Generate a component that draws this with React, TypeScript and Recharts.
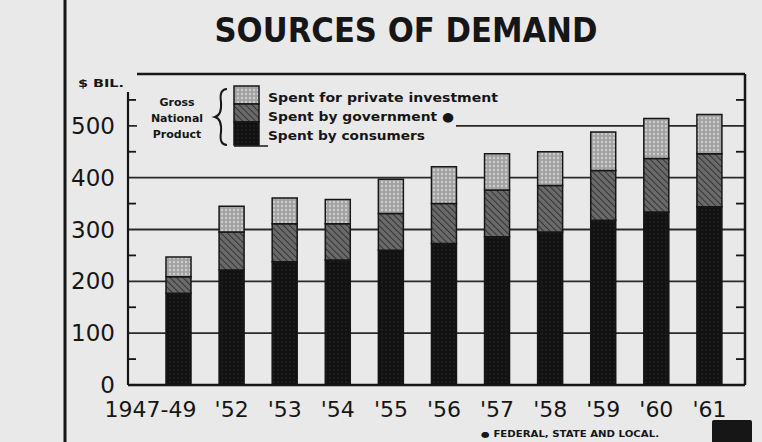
import React from 'react';
import { BarChart, Bar, XAxis, YAxis, CartesianGrid, ReferenceLine } from 'recharts';

const categories = ['1947-49', "'52", "'53", "'54", "'55", "'56", "'57", "'58", "'59", "'60", "'61"];
const consumers = [177, 222, 238, 241, 260, 273, 286, 295, 318, 334, 344];
const government = [32, 73, 73, 70, 71, 77, 90, 90, 96, 103, 102];
const investment = [38, 50, 50, 47, 66, 71, 70, 65, 74, 77, 76];
const yTicks = [0, 100, 200, 300, 400, 500];
const minorTicks = [50, 150, 250, 350, 450, 550];
const legendNames = ['Spent for private investment', 'Spent by government \u25CF', 'Spent by consumers'];
const gnpLabel = ['Gross', 'National', 'Product'];
const title = 'SOURCES OF DEMAND';
const unitLabel = '$ BIL.';
const footnote = '\u25CF FEDERAL, STATE AND LOCAL.';

const data = categories.map((c, i) => ({
  year: c,
  consumers: consumers[i],
  government: government[i],
  investment: investment[i],
}));

const INK = '#161616';
const PAPER = '#e9e9e9';
const FONT = 'DejaVu Sans';

const Patterns = () => (
  <defs>
    <pattern id="hatchGov" width="4.5" height="4.5" patternUnits="userSpaceOnUse" patternTransform="rotate(-45)">
      <rect width="4.5" height="4.5" fill="#6a6a6a" />
      <line x1="0" y1="0" x2="0" y2="4.5" stroke="#333" strokeWidth="2" />
    </pattern>
    <pattern id="dotsInv" width="4" height="4" patternUnits="userSpaceOnUse">
      <rect width="4" height="4" fill="#a2a2a2" />
      <circle cx="2" cy="2" r="1.2" fill="#cdcdcd" />
    </pattern>
    <pattern id="dotsCons" width="4" height="4" patternUnits="userSpaceOnUse">
      <rect width="4" height="4" fill="#121212" />
      <circle cx="2" cy="2" r="0.8" fill="#2a2a2a" />
    </pattern>
  </defs>
);

const XTick = (props: any) => {
  const { x, y, payload, index } = props;
  const dx = index === 0 ? -28 : 0;
  return (
    <text x={x + dx} y={y + 32} textAnchor="middle" fontSize={22} fontFamily={FONT} fill={INK}>
      {payload.value}
    </text>
  );
};

const LeftMinorTick = (props: any) => {
  const { x, y } = props;
  return <line x1={x} y1={y} x2={x + 8} y2={y} stroke={INK} strokeWidth={1.8} />;
};

const RightMinorTick = (props: any) => {
  const { x, y } = props;
  return <line x1={x - 9} y1={y} x2={x} y2={y} stroke={INK} strokeWidth={1.8} />;
};

export default function App() {
  return (
    <div style={{ position: 'absolute', left: 0, top: 0, width: 762, height: 442, background: PAPER, overflow: 'hidden' }}>
      <BarChart
        width={762}
        height={442}
        data={data}
        margin={{ top: 74, right: 16, bottom: 27, left: 67 }}
        barSize={25}
      >
        <Patterns />
        <CartesianGrid yAxisId="left" horizontal vertical={false} stroke="#2a2a2a" strokeWidth={1.8} />
        <XAxis
          dataKey="year"
          height={30}
          tickLine={false}
          tickSize={0}
          tickMargin={0}
          axisLine={{ stroke: INK, strokeWidth: 2.5 }}
          padding={{ left: 24, right: 9 }}
          tick={<XTick />}
          interval={0}
        />
        <YAxis yAxisId="aMinor" width={1} type="number" allowDataOverflow domain={[0, 600]} ticks={minorTicks} interval={0} tick={<LeftMinorTick />} tickSize={0} tickMargin={0} axisLine={{ stroke: INK, strokeWidth: 2.2 }} tickLine={false} />
        <YAxis
          yAxisId="left"
          width={60}
          domain={[0, 600]}
          ticks={yTicks}
          interval={0}
          tickLine={false}
          tickSize={0}
          tickMargin={12}
          axisLine={false}
          tick={{ fontSize: 23, fill: INK, fontFamily: FONT }}
        />
        <YAxis yAxisId="right" orientation="right" width={1} type="number" allowDataOverflow domain={[0, 600]} ticks={minorTicks} interval={0} tick={<RightMinorTick />} tickSize={0} tickMargin={0} axisLine={{ stroke: INK, strokeWidth: 2.5 }} tickLine={false} />
        <ReferenceLine yAxisId="left" y={600} stroke={INK} strokeWidth={2.5} />
        <Bar yAxisId="left" dataKey="consumers" stackId="gnp" fill="url(#dotsCons)" stroke={INK} strokeWidth={1.5} isAnimationActive={false} />
        <Bar yAxisId="left" dataKey="government" stackId="gnp" fill="url(#hatchGov)" stroke={INK} strokeWidth={1.5} isAnimationActive={false} />
        <Bar yAxisId="left" dataKey="investment" stackId="gnp" fill="url(#dotsInv)" stroke={INK} strokeWidth={1.5} isAnimationActive={false} />
      </BarChart>
      <svg width={762} height={442} style={{ position: 'absolute', left: 0, top: 0, pointerEvents: 'none' }}>
        <Patterns />
        <rect x={137} y={78} width={319} height={72} fill={PAPER} />
        <rect x={122} y={66} width={15} height={26} fill={PAPER} />
        <line x1={65} y1={0} x2={65} y2={442} stroke={INK} strokeWidth={3} />
        <text x={406} y={42} textAnchor="middle" fontSize={33} fontWeight="bold" fontFamily={FONT} fill={INK} textLength={383} lengthAdjust="spacingAndGlyphs">
          {title}
        </text>
        <text x={78} y={87} fontSize={11} fontWeight="bold" fontFamily={FONT} fill={INK} textLength={46} lengthAdjust="spacingAndGlyphs">
          {unitLabel}
        </text>
        {gnpLabel.map((t, i) => (
          <text key={t} x={177} y={106 + i * 16} textAnchor="middle" fontSize={11} fontWeight="bold" fontFamily={FONT} fill={INK}>
            {t}
          </text>
        ))}
        <path d="M227,89 Q219,89 221,102 Q222,115 215,117 Q222,119 221,132 Q219,145 227,145" fill="none" stroke={INK} strokeWidth={2} />
        <rect x={234} y={86} width={25} height={18} fill="url(#dotsInv)" stroke={INK} strokeWidth={1.5} />
        <rect x={234} y={104} width={25} height={18} fill="url(#hatchGov)" stroke={INK} strokeWidth={1.5} />
        <rect x={234} y={122} width={25} height={23} fill="url(#dotsCons)" stroke={INK} strokeWidth={1.5} />
        <line x1={234} y1={146} x2={268} y2={146} stroke={INK} strokeWidth={1.5} />
        <text x={268} y={102} fontSize={12.5} fontWeight="bold" fontFamily={FONT} fill={INK} textLength={230} lengthAdjust="spacingAndGlyphs">{legendNames[0]}</text>
        <text x={268} y={121} fontSize={12.5} fontWeight="bold" fontFamily={FONT} fill={INK} textLength={186} lengthAdjust="spacingAndGlyphs">{legendNames[1]}</text>
        <text x={268} y={140} fontSize={12.5} fontWeight="bold" fontFamily={FONT} fill={INK} textLength={157} lengthAdjust="spacingAndGlyphs">{legendNames[2]}</text>
        <text x={481} y={437} fontSize={8} fontWeight="bold" fontFamily={FONT} fill={INK} textLength={178} lengthAdjust="spacingAndGlyphs">{footnote}</text>
        <rect x={712} y={420} width={40} height={24} rx={2} fill={INK} />
      </svg>
    </div>
  );
}
